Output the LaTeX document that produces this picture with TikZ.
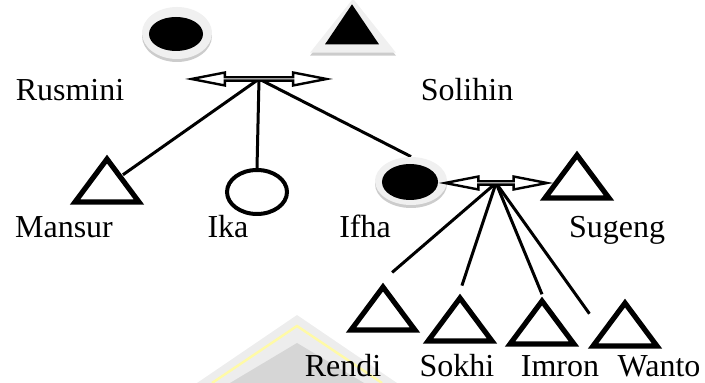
\documentclass[tikz,border=0pt]{standalone}
\usepackage{fontspec}
\setmainfont{Liberation Serif}
\usetikzlibrary{positioning,shapes.geometric,shapes.arrows,shadows,backgrounds}

\begin{document}
\begin{tikzpicture}[
    x=0.5pt, y=-0.5pt,
    male/.style={
        isosceles triangle,
        shape border rotate=90,
        isosceles triangle stretches,
        draw=black,
        fill=white,
        line width=2.6pt,
        inner sep=0pt,
        minimum width=32pt,
        minimum height=21.5pt
    },
    female/.style={
        ellipse,
        draw=black,
        fill=white,
        line width=2pt,
        inner sep=0pt,
        minimum width=30pt,
        minimum height=22pt
    },
    halo/.style={
        fill=black!6,
        draw=none,
        inner sep=0pt,
        drop shadow={shadow xshift=0pt, shadow yshift=-1.5pt, fill=black!40, opacity=0.5}
    },
    couple/.style={
        double arrow,
        double arrow tip angle=22,
        double arrow head extend=1.7pt,
        draw=black,
        fill=white,
        line width=1.2pt,
        inner sep=0pt,
        minimum width=6.5pt
    },
    pname/.style={font=\fontsize{16}{19}\selectfont, anchor=base, inner sep=0pt},
    kin/.style={line width=1.5pt}
]
\useasboundingbox (0,0) rectangle (705,383);

% faint watermark
\fill[black!7] (197,383) -- (297,315) -- (397,383) -- cycle;
\draw[yellow!35, line width=1.2pt] (212,383) -- (297,326) -- (382,383);
\fill[black!16] (230,383) -- (297,343) -- (364,383) -- cycle;

% parents
\node[halo, ellipse, minimum width=35pt, minimum height=26pt] (rusminiH) at (177,33) {};
\node[female, fill=black, minimum width=25pt, minimum height=15pt] (rusmini) at (176,34) {};
\node[male, halo, minimum width=43pt, minimum height=27pt] (solihinH) at (353,32) {};
\node[male, fill=black, draw=none, minimum width=27pt, minimum height=20pt] (solihin) at (352,30) {};

\node[pname] (rusminiL) at (70,101) {Rusmini};
\node[pname] (solihinL) at (467,101) {Solihin};

\node[couple, minimum height=67.5pt] (famA) at (259,79) {};

% children
\node[male] (mansur) at (107,186) {};
\node[female] (ika) at (257,192) {};
\node[halo, ellipse, minimum width=36pt, minimum height=24pt] (ifhaH) at (411,181) {};
\node[female, fill=black, minimum width=26pt, minimum height=16pt] (ifha) at (410,182) {};
\node[male] (sugeng) at (577,182) {};

\node[pname] (mansurL) at (64,238) {Mansur};
\node[pname] (ikaL) at (228,238) {Ika};
\node[pname] (ifhaL) at (365,238) {Ifha};
\node[pname] (sugengL) at (617,238) {Sugeng};

\node[couple, minimum height=51pt] (famB) at (496,183) {};

% grandchildren
\node[male] (rendi) at (383,314) {};
\node[male] (sokhi) at (460,325) {};
\node[male] (imron) at (542,328) {};
\node[male] (wanto) at (625,330) {};

\node[pname] (rendiL) at (343,377) {Rendi};
\node[pname] (sokhiL) at (457,377) {Sokhi};
\node[pname] (imronL) at (560,377) {Imron};
\node[pname] (wantoL) at (659,377) {Wanto};

\begin{scope}[on background layer]
\draw[kin] (famA.center) -- (mansur);
\draw[kin] (famA.center) -- (ika.north);
\draw[kin] (famA.center) -- (ifhaH.north);
\draw[kin, shorten >=6pt] (famB.center) -- (rendi.north);
\draw[kin, shorten >=3pt] (famB.center) -- (sokhi.north);
\draw[kin] (famB.center) -- (imron.north);
\draw[kin, shorten >=10pt] (famB.center) -- (wanto.west);
\end{scope}

\end{tikzpicture}
\end{document}
